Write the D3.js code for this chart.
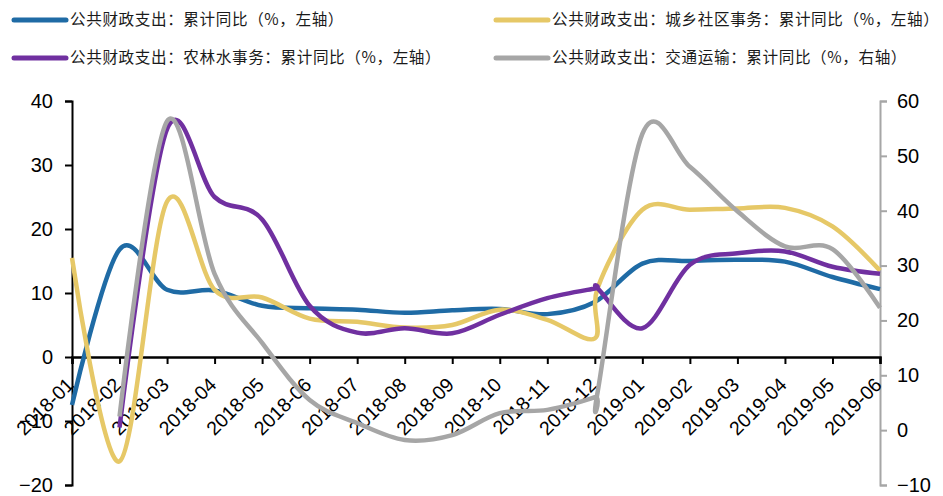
<!DOCTYPE html>
<html>
<head>
<meta charset="utf-8">
<script src="https://cdn.jsdelivr.net/npm/d3@7"></script>
<style>
  html, body { margin: 0; padding: 0; background: #fff; }
  svg { display: block; }
  text { font-family: "Liberation Sans", Arial, sans-serif; fill: #000; }
  .legend text { font-family: "Noto Sans CJK SC", sans-serif; fill: #1a1a1a; letter-spacing: 0.6px; }
</style>
</head>
<body>
<svg id="chart" width="943" height="496"></svg>
<script>
// ---- data ----
const categories = ["2018-01","2018-02","2018-03","2018-04","2018-05","2018-06","2018-07","2018-08","2018-09","2018-10","2018-11","2018-12","2019-01","2019-02","2019-03","2019-04","2019-05","2019-06"];
// data positions (category index); a second observation sits just after 2018-12
const positions = [0,1,2,3,4,5,6,7,8,9,10,11,11.06,12,13,14,15,16,17];

const seriesNames = [
  "公共财政支出：累计同比（%，左轴）",
  "公共财政支出：城乡社区事务：累计同比（%，左轴）",
  "公共财政支出：农林水事务：累计同比（%，左轴）",
  "公共财政支出：交通运输：累计同比（%，右轴）"
];
const totalYoY     = [-7.5,16.8,10.5,10.4,8.0,7.6,7.4,6.9,7.3,7.5,6.7,8.6,null,14.6,15.0,15.2,14.9,12.5,10.6];
const urbanRuralYoY= [15.5,-16.3,24.3,10.5,9.3,6.0,5.5,4.6,5.0,7.4,5.8,2.9,10.8,23.0,23.0,23.2,23.3,20.4,13.5];
const agriWaterYoY = [null,-11.0,35.6,25.0,21.5,8.0,3.8,4.5,3.7,6.6,9.2,10.7,10.7,4.5,14.4,16.2,16.5,14.1,13.0];
const transportYoY = [null,2.5,56.3,28.5,15.9,5.5,1.3,-1.8,-0.9,3.1,3.7,6.0,7.0,54.0,48.0,39.9,33.5,33.0,22.3];

const leftTicks  = [-20,-10,0,10,20,30,40];
const rightTicks = [-10,0,10,20,30,40,50,60];

const colors = ["#1f6ba5", "#e6c867", "#7030a0", "#a6a6a6"];

// ---- chart ----
const svg = d3.select("#chart");
const x = d3.scaleLinear().domain([0, categories.length - 1]).range([72, 880]);
const yL = d3.scaleLinear().domain([-20, 40]).range([485, 101]);
const yR = d3.scaleLinear().domain([-10, 60]).range([485, 101]);

// left axis
const gL = svg.append("g").attr("transform", "translate(72,0)")
  .call(d3.axisLeft(yL).tickValues(leftTicks).tickSize(7).tickPadding(12).tickFormat(d3.format("d")));
gL.select(".domain").attr("stroke", "#000").attr("stroke-width", 2);
gL.selectAll(".tick line").attr("stroke", "#000").attr("stroke-width", 2);
gL.selectAll("text").style("font-size", "20px");

// right axis
const gR = svg.append("g").attr("transform", "translate(880,0)")
  .call(d3.axisRight(yR).tickValues(rightTicks).tickSize(7).tickPadding(10).tickFormat(d3.format("d")));
gR.select(".domain").attr("stroke", "#a6a6a6").attr("stroke-width", 2);
gR.selectAll(".tick line").attr("stroke", "#a6a6a6").attr("stroke-width", 2);
gR.selectAll("text").style("font-size", "20px");

// x axis at zero of left axis
const gX = svg.append("g").attr("transform", `translate(0,${yL(0)})`)
  .call(d3.axisBottom(x).tickValues(d3.range(categories.length)).tickSize(7).tickFormat(i => categories[i]));
gX.select(".domain").attr("stroke", "#000").attr("stroke-width", 2.5);
gX.selectAll(".tick line").attr("stroke", "#000").attr("stroke-width", 2);
gX.selectAll("text")
  .style("font-size", "19.5px")
  .attr("text-anchor", "end")
  .attr("dy", null)
  .attr("y", 0)
  .attr("transform", "translate(2.5,29) rotate(-45)");

// lines
const seriesData = [
  {vals: totalYoY, y: yL},
  {vals: urbanRuralYoY, y: yL},
  {vals: agriWaterYoY, y: yL},
  {vals: transportYoY, y: yR}
];
const line = d3.line().curve(d3.curveCardinal.tension(0));
seriesData.forEach((s, k) => {
  const pts = positions.map((p, i) => [p, s.vals[i]])
    .filter(d => d[1] !== null)
    .map(d => [x(d[0]), s.y(d[1])]);
  svg.append("path")
    .attr("d", line(pts))
    .attr("fill", "none")
    .attr("stroke", colors[k])
    .attr("stroke-width", 4.5)
    .attr("stroke-linejoin", "round")
    .attr("stroke-linecap", "butt");
});

// legend
const legendPos = [[14, 20], [496, 20], [14, 58], [496, 58]];
const lg = svg.append("g").attr("class", "legend");
seriesNames.forEach((name, k) => {
  const [lx, ly] = legendPos[k];
  lg.append("line").attr("x1", lx).attr("x2", lx + 52).attr("y1", ly).attr("y2", ly)
    .attr("stroke", colors[k]).attr("stroke-width", 5).attr("stroke-linecap", "round");
  lg.append("text").attr("x", lx + 56).attr("y", ly).attr("dy", "0.35em")
    .style("font-size", "15.6px").text(name);
});
</script>
</body>
</html>
